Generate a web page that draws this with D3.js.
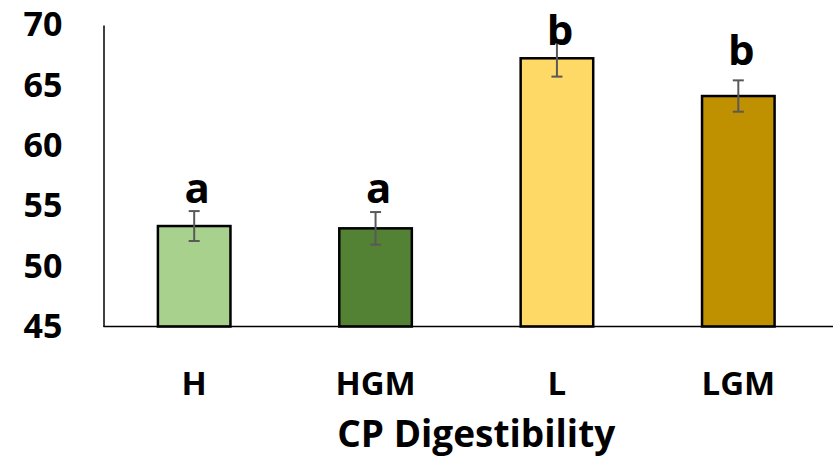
<!DOCTYPE html>
<html>
<head>
<meta charset="utf-8">
<script src="https://cdn.jsdelivr.net/npm/d3@7"></script>
<style>
  html, body { margin: 0; padding: 0; background: #fff; }
  svg { display: block; }
  text { font-family: "Open Sans", Lato, sans-serif; font-weight: 700; fill: #000; }
</style>
</head>
<body>
<svg id="chart" width="833" height="469"></svg>
<script>
const categories = ["H", "HGM", "L", "LGM"];
const values = [53.33, 53.14, 67.24, 64.11];
const errors = [1.24, 1.35, 1.52, 1.3];
const letters = ["a", "a", "b", "b"];
const letterAt = [55.2, 55.2, 68.35, 66.7];
const colors = ["#A9D18E", "#548235", "#FFD966", "#BF9000"];
const yTicks = [45, 50, 55, 60, 65, 70];
const xTitle = "CP Digestibility";

(function () {
const FONT = "'Open Sans', Lato, sans-serif";
const svg = d3.select("#chart");
const mLeft = 103.5, mRight = 829, mTop = 25, mBottom = 326.5;

const x = d3.scaleBand().domain(categories).range([mLeft, mRight]).paddingInner(0.6).paddingOuter(0.3);
const y = d3.scaleLinear().domain([45, 70]).range([mBottom, mTop]);

// y axis
const yAxis = svg.append("g").attr("transform", `translate(${mLeft},0)`)
  .call(d3.axisLeft(y).tickValues(yTicks).tickSize(0).tickPadding(41).tickFormat(d3.format("d")));
yAxis.select(".domain").attr("stroke", "#000").attr("stroke-width", 1.5);
yAxis.selectAll("text").style("font-size", "34px").style("font-family", FONT).style("font-weight", "700").attr("fill", "#000");

// bars
const data = categories.map((c, i) => ({c, v: values[i], e: errors[i], l: letters[i], la: letterAt[i], col: colors[i]}));
svg.append("g").selectAll("rect").data(data).join("rect")
  .attr("x", d => x(d.c)).attr("width", x.bandwidth())
  .attr("y", d => y(d.v)).attr("height", d => y(45) - y(d.v))
  .attr("fill", d => d.col).attr("stroke", "#000").attr("stroke-width", 2.5);

// x axis
const xAxis = svg.append("g").attr("transform", `translate(0,${mBottom})`)
  .call(d3.axisBottom(x).tickSize(0).tickPadding(45));
xAxis.select(".domain").attr("d", `M${mLeft},0H833`).attr("stroke", "#000").attr("stroke-width", 1.5);
xAxis.selectAll("text").style("font-size", "33px").style("font-family", FONT).style("font-weight", "700").attr("fill", "#000");

// error bars
const eg = svg.append("g").attr("stroke", "#595959").attr("stroke-width", 2).attr("fill", "none");
data.forEach(d => {
  const cx = x(d.c) + x.bandwidth() / 2;
  eg.append("line").attr("x1", cx).attr("x2", cx).attr("y1", y(d.v + d.e)).attr("y2", y(d.v - d.e));
  eg.append("line").attr("x1", cx - 5.5).attr("x2", cx + 5.5).attr("y1", y(d.v + d.e)).attr("y2", y(d.v + d.e));
  eg.append("line").attr("x1", cx - 5.5).attr("x2", cx + 5.5).attr("y1", y(d.v - d.e)).attr("y2", y(d.v - d.e));
});

// significance letters
svg.append("g").selectAll("text").data(data).join("text")
  .attr("x", d => x(d.c) + x.bandwidth() / 2 + 3)
  .attr("y", d => y(d.la))
  .attr("text-anchor", "middle")
  .style("font-size", "42px")
  .text(d => d.l);

// x title
svg.append("text")
  .attr("x", (mLeft + mRight) / 2 + 10)
  .attr("y", 447)
  .attr("text-anchor", "middle")
  .style("font-size", "37px")
  .text(xTitle);
})();
</script>
</body>
</html>
